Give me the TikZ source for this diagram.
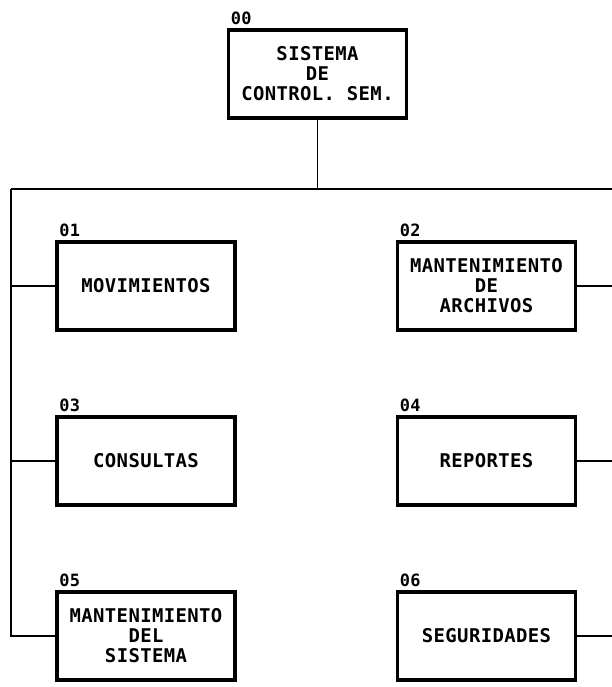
\documentclass[tikz,border=0pt]{standalone}
\usepackage{fontspec}
\usepackage{tikz}
\newfontfamily\dotfont{DejaVu Sans Mono}[LetterSpace=2]

\begin{document}
\begin{tikzpicture}[x=1bp,y=-1bp,
    box/.style={draw,line width=3.5bp,minimum width=178bp,minimum height=88bp,
        inner sep=0pt,align=center,font=\dotfont\bfseries\fontsize{19}{20}\selectfont},
    num/.style={anchor=south west,inner sep=1bp,xshift=3bp,yshift=2bp,
        font=\dotfont\bfseries\fontsize{17}{17}\selectfont},
    wire/.style={line width=1.8bp}]
\useasboundingbox (0,0) rectangle (612,687);

    \node[box] (sis) at (317.5,74) {SISTEMA\\DE\\CONTROL. SEM.};

    \node[box] (mov) at (146,286) {MOVIMIENTOS};
    \node[box] (arch) at (486.5,286) {MANTENIMIENTO\\DE\\ARCHIVOS};
    \node[box] (cons) at (146,461) {CONSULTAS};
    \node[box] (rep) at (486.5,461) {REPORTES};
    \node[box] (msis) at (146,636) {MANTENIMIENTO\\DEL\\SISTEMA};
    \node[box] (seg) at (486.5,636) {SEGURIDADES};

    % numeros
    \node[num] (n00) at (sis.north west) {00};
    \node[num] (n01) at (mov.north west) {01};
    \node[num] (n02) at (arch.north west) {02};
    \node[num] (n03) at (cons.north west) {03};
    \node[num] (n04) at (rep.north west) {04};
    \node[num] (n05) at (msis.north west) {05};
    \node[num] (n06) at (seg.north west) {06};

    \coordinate (busL) at (11,189);
    \coordinate (busR) at (612,189);

    \draw[wire] (sis.south) -- (sis.south |- busL);
    \draw[wire] (busL) -- (busR);
    \draw[wire] (busL) |- (msis.west);
    \draw[wire] (mov.west) -- (mov.west -| busL);
    \draw[wire] (cons.west) -- (cons.west -| busL);

    \draw[wire] (arch.east) -- (arch.east -| busR);
    \draw[wire] (rep.east) -- (rep.east -| busR);
    \draw[wire] (seg.east) -- (seg.east -| busR);

\end{tikzpicture}
\end{document}
